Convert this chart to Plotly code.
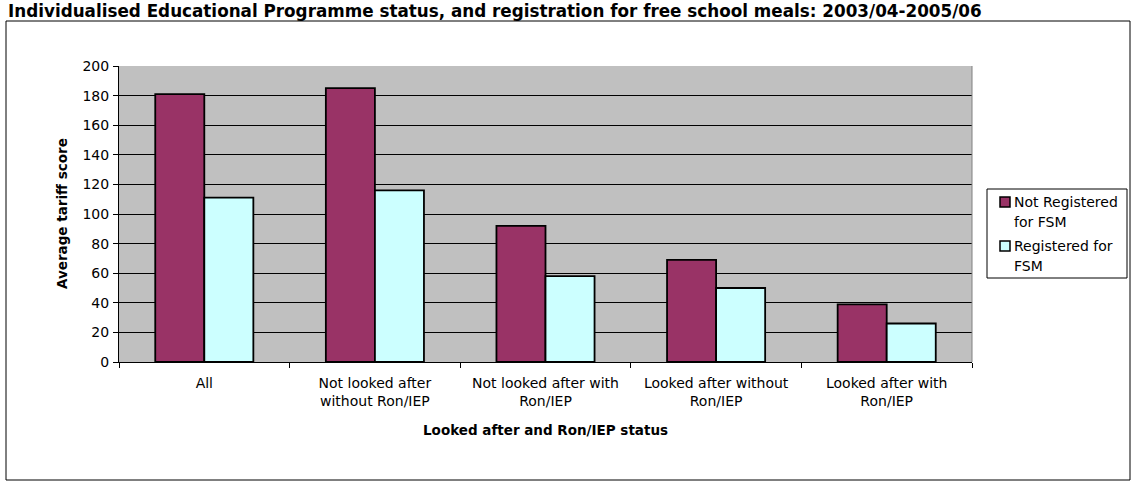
import plotly.graph_objects as go

# Average tariff score by looked-after status and FSM registration
categories = [
    "All",
    "Not looked after<br>without Ron/IEP",
    "Not looked after with<br>Ron/IEP",
    "Looked after without<br>Ron/IEP",
    "Looked after with<br>Ron/IEP",
]
not_registered = [181, 185, 92, 69, 39]
registered = [111, 116, 58, 50, 26]
series_names = ["Not Registered<br>for FSM", "Registered for<br>FSM"]
series_colors = ["#993366", "#CCFFFF"]
y_ticks = [0, 20, 40, 60, 80, 100, 120, 140, 160, 180, 200]

title_text = ("Individualised Educational Programme status, and registration for "
              "free school meals: 2003/04-2005/06")

W, H = 1131, 484
L, R, T, B = 119, 972, 66, 362  # plot area in pixels


def px_x(p):
    return (p - L) / (R - L)


def px_y(p):
    return (B - p) / (B - T)


FONT = "DejaVu Sans, Verdana, sans-serif"

fig = go.Figure()
for name, vals, col in zip(series_names, [not_registered, registered], series_colors):
    fig.add_trace(go.Bar(
        x=categories, y=vals, name=name.replace("<br>", " "),
        marker=dict(color=col, line=dict(color="black", width=1.8)),
        showlegend=False,
    ))

shapes = [
    # outer chart frame
    dict(type="rect", xref="paper", yref="paper",
         x0=px_x(6), x1=px_x(1130), y0=px_y(480), y1=px_y(21),
         line=dict(color="black", width=1), fillcolor="rgba(0,0,0,0)",
         layer="below"),
    # plot area border on the right
    dict(type="line", xref="paper", yref="paper",
         x0=1, x1=1, y0=0, y1=1, line=dict(color="#808080", width=1)),
    # legend box
    dict(type="rect", xref="paper", yref="paper",
         x0=px_x(987), x1=px_x(1127), y0=px_y(278), y1=px_y(189),
         line=dict(color="black", width=1), fillcolor="white"),
]

annotations = [
    dict(text="<b>" + title_text + "</b>", xref="paper", yref="paper",
         x=px_x(6), y=px_y(10.5), xanchor="left", yanchor="middle",
         showarrow=False, font=dict(family=FONT, size=16.8, color="black")),
    dict(text="<b>Looked after and Ron/IEP status</b>", xref="paper", yref="paper",
         x=px_x(545), y=px_y(430), xanchor="center", yanchor="middle",
         showarrow=False, font=dict(family=FONT, size=13.5, color="black")),
    dict(text="<b>Average tariff score</b>", xref="paper", yref="paper",
         x=px_x(62), y=px_y(213), xanchor="center", yanchor="middle",
         textangle=-90, showarrow=False,
         font=dict(family=FONT, size=13.5, color="black")),
]

# legend entries: swatch plus two text lines each
entry_tops = [202, 246]
for name, col, yc in zip(series_names, series_colors, entry_tops):
    shapes.append(dict(type="rect", xref="paper", yref="paper",
                       x0=px_x(1000), x1=px_x(1010), y0=px_y(yc + 5), y1=px_y(yc - 5),
                       line=dict(color="black", width=1.5), fillcolor=col))
    for i, line in enumerate(name.split("<br>")):
        annotations.append(dict(
            text=line, xref="paper", yref="paper",
            x=px_x(1012), y=px_y(yc + 20 * i), xanchor="left", yanchor="middle",
            showarrow=False, font=dict(family=FONT, size=14, color="black")))

fig.update_layout(
    width=W, height=H,
    margin=dict(l=L, r=W - R, t=T, b=H - B, pad=0),
    paper_bgcolor="white",
    plot_bgcolor="#C0C0C0",
    barmode="group",
    bargap=0.425,
    bargroupgap=0,
    font=dict(family=FONT, size=14, color="black"),
    showlegend=False,
    xaxis=dict(
        showline=True, linecolor="black", linewidth=1,
        ticks="outside", ticklen=5, tickcolor="black", tickson="boundaries",
        tickfont=dict(family=FONT, size=14),
        ticklabelstandoff=8,
        showgrid=False,
    ),
    yaxis=dict(
        range=[0, 200], tickvals=y_ticks,
        showline=True, linecolor="black", linewidth=1,
        ticks="outside", ticklen=5, tickcolor="black",
        showgrid=True, gridcolor="black", gridwidth=1,
        zeroline=False,
        tickfont=dict(family=FONT, size=14),
        ticklabelstandoff=1,
    ),
    shapes=shapes,
    annotations=annotations,
)

fig.write_html("out.html")
